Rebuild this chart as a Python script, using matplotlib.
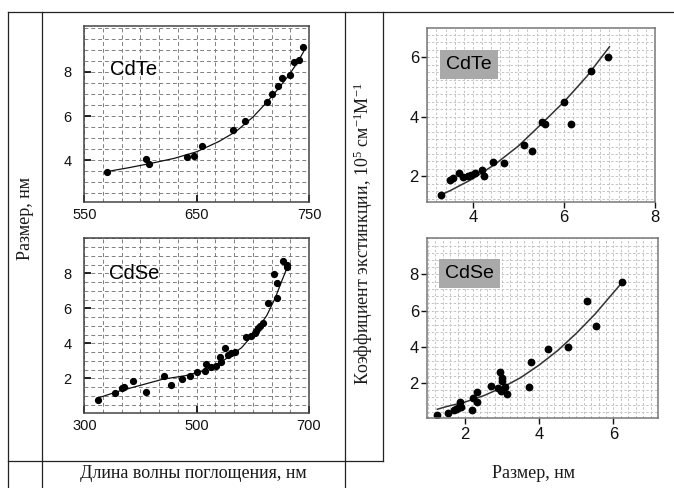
import matplotlib
matplotlib.use("Agg")
import matplotlib.pyplot as plt
from matplotlib.lines import Line2D
from matplotlib.ticker import MultipleLocator

plt.rcParams["font.family"] = ["Liberation Sans", "DejaVu Sans"]
plt.rcParams["mathtext.fontset"] = "custom"
plt.rcParams["mathtext.rm"] = "Liberation Serif"
plt.rcParams["mathtext.it"] = "Liberation Serif:italic"

W, H = 674, 488

# --- data ---
# CdTe: absorption wavelength (nm) -> size (nm)
cdte_wl = [570, 605, 607.5, 641, 648, 655, 682, 693, 713, 717, 722, 726, 733, 737, 741, 745]
cdte_size = [3.45, 4.03, 3.83, 4.14, 4.21, 4.62, 5.35, 5.76, 6.64, 7.02, 7.36, 7.73, 7.88, 8.45, 8.56, 9.14]
cdte_fit_wl = [570, 590, 610, 630, 650, 670, 685, 700, 712, 722, 732, 740, 746]
cdte_fit_size = [3.48, 3.66, 3.86, 4.08, 4.38, 4.85, 5.3, 5.95, 6.6, 7.2, 7.85, 8.45, 9.0]

# CdSe: absorption wavelength (nm) -> size (nm)
cdse_wl = [325, 354, 368, 371, 387, 410, 442, 454, 474, 488, 501, 514, 517, 526, 534, 541,
           544, 550, 556, 562, 568, 587, 597, 603, 606, 609, 612, 619, 627, 637, 643, 643,
           654, 660, 661]
cdse_size = [0.76, 1.14, 1.43, 1.49, 1.85, 1.24, 2.13, 1.62, 1.94, 2.13, 2.34, 2.44, 2.8,
             2.67, 2.7, 3.24, 2.95, 3.75, 3.33, 3.43, 3.52, 4.34, 4.42, 4.57, 4.7, 4.86, 4.99,
             5.14, 6.29, 7.96, 6.57, 7.47, 8.7, 8.38, 8.48]
cdse_fit_wl = [322, 360, 400, 440, 480, 510, 540, 565, 580, 595, 610, 625, 640, 652, 662]
cdse_fit_size = [0.85, 1.25, 1.6, 1.95, 2.15, 2.4, 2.85, 3.4, 3.75, 4.3, 4.9, 5.6, 6.6, 7.6, 8.4]

# extinction coefficient (10^5 cm^-1 M^-1) vs size (nm)
cdte_d = [3.30, 3.50, 3.57, 3.70, 3.78, 3.90, 3.96, 4.04, 4.20, 4.25, 4.45, 4.68, 5.12, 5.31,
          5.51, 5.58, 6.00, 6.16, 6.60, 6.96]
cdte_eps = [1.39, 1.89, 1.94, 2.11, 1.97, 2.0, 2.06, 2.11, 2.22, 2.00, 2.47, 2.45, 3.04, 2.86,
            3.84, 3.77, 4.51, 3.77, 5.55, 6.00]
cdte_fit_d = [3.3, 3.5, 4.0, 4.5, 5.0, 5.5, 6.0, 6.5, 7.0]
cdte_fit_eps = [1.38, 1.52, 1.92, 2.42, 3.02, 3.75, 4.5, 5.35, 6.35]

cdse_d = [1.24, 1.55, 1.69, 1.76, 1.82, 1.87, 1.88, 2.18, 2.22, 2.33, 2.33, 2.69, 2.90, 2.94,
          2.96, 2.99, 3.00, 3.08, 3.12, 3.73, 3.77, 4.24, 4.78, 5.29, 5.52, 6.23]
cdse_eps = [0.24, 0.37, 0.50, 0.55, 0.64, 0.97, 0.70, 0.51, 1.19, 1.49, 0.97, 1.85, 1.71, 2.62,
            1.56, 2.26, 2.11, 1.80, 1.38, 1.80, 3.14, 3.87, 4.00, 6.51, 5.14, 7.58]
cdse_fit_d = [1.25, 1.5, 2.0, 2.5, 3.0, 3.5, 4.0, 4.5, 5.0, 5.5, 6.0, 6.25]
cdse_fit_eps = [0.55, 0.7, 0.95, 1.3, 1.75, 2.3, 3.0, 3.8, 4.75, 5.8, 7.0, 7.6]


def box(l, t, r, b):
    # pixel box -> figure fraction rect
    return [l / W, 1 - b / H, (r - l) / W, (b - t) / H]


def hline(y, x0, x1):
    fig.add_artist(Line2D([x0 / W, x1 / W], [1 - y / H, 1 - y / H], color="#222", lw=0.9))


def vline(x, y0, y1):
    fig.add_artist(Line2D([x / W, x / W], [1 - y0 / H, 1 - y1 / H], color="#222", lw=0.9))


def left_style(ax, xlim, ylim, xt, yt, xstep):
    ax.set_xlim(*xlim)
    ax.set_ylim(*ylim)
    ax.set_xticks(xt)
    ax.set_yticks(yt)
    ax.xaxis.set_minor_locator(MultipleLocator(xstep))
    ax.yaxis.set_minor_locator(MultipleLocator(0.5))
    ax.grid(True, which="both", color="#808080", lw=0.7, linestyle=(0, (4, 3)))
    ax.set_axisbelow(True)
    ax.tick_params(which="major", direction="in", length=5, width=1.3, labelsize=10.5,
                   colors="#111")
    ax.tick_params(axis="y", which="major", pad=9)
    ax.tick_params(axis="x", which="major", pad=4)
    ax.tick_params(which="minor", length=0)
    for s in ax.spines.values():
        s.set_color("#444")
        s.set_linewidth(1.1)


def right_style(ax, xlim, ylim, xt, yt, ystep):
    ax.set_xlim(*xlim)
    ax.set_ylim(*ylim)
    ax.set_xticks(xt)
    ax.set_yticks(yt)
    ax.xaxis.set_minor_locator(MultipleLocator(0.2))
    ax.yaxis.set_minor_locator(MultipleLocator(ystep))
    ax.grid(True, which="both", color="#c4c4c4", lw=0.7, linestyle=(0, (2.5, 2)))
    ax.set_axisbelow(True)
    ax.tick_params(which="major", direction="out", length=4, width=1.0, labelsize=12,
                   colors="#111", pad=2)
    ax.tick_params(which="minor", length=0)
    for s in ax.spines.values():
        s.set_color("#777")
        s.set_linewidth(1.1)


fig = plt.figure(figsize=(W / 100, H / 100), dpi=100)

# table lines
hline(12, 8, 673)
hline(461, 8, 383)
vline(8, 12, 488)
vline(42, 12, 488)
vline(345, 12, 488)
vline(383, 12, 461)

# left column: size vs absorption wavelength
ax1 = fig.add_axes(box(84.3, 25.7, 309, 202))
ax1.plot(cdte_fit_wl, cdte_fit_size, color="#111", lw=0.9)
ax1.plot(cdte_wl, cdte_size, "o", color="black", ms=4.2)
left_style(ax1, (550, 750), (2.1, 10.1), [550, 650, 750], [4, 6, 8], 50 / 3)
ax1.text(0.22, 0.75, "CdTe", transform=ax1.transAxes, fontsize=14.5, ha="center", va="center")

ax2 = fig.add_axes(box(84.3, 238.3, 309, 413.3))
ax2.plot(cdse_fit_wl, cdse_fit_size, color="#111", lw=0.9)
ax2.plot(cdse_wl, cdse_size, "o", color="black", ms=4.2)
left_style(ax2, (300, 700), (0, 10), [300, 500, 700], [2, 4, 6, 8], 100 / 3)
ax2.text(0.22, 0.80, "CdSe", transform=ax2.transAxes, fontsize=14.5, ha="center", va="center")

# right column: extinction coefficient vs size
ax3 = fig.add_axes(box(427.3, 28.3, 655, 201.7))
ax3.plot(cdte_fit_d, cdte_fit_eps, color="#333", lw=1.1)
ax3.plot(cdte_d, cdte_eps, "o", color="black", ms=4.6)
right_style(ax3, (3.0, 7.93), (1.15, 6.97), [4, 6, 8], [2, 4, 6], 0.25)
ax3.text(469 / W, 1 - 64.5 / H, "CdTe", transform=fig.transFigure, fontsize=14,
         ha="center", va="center",
         bbox=dict(boxstyle="square,pad=0.32", facecolor="#a9a9a9", edgecolor="none"))

ax4 = fig.add_axes(box(427.3, 238.3, 658.3, 418.3))
ax4.plot(cdse_fit_d, cdse_fit_eps, color="#333", lw=1.1)
ax4.plot(cdse_d, cdse_eps, "o", color="black", ms=4.6)
right_style(ax4, (0.98, 7.21), (0.05, 10), [2, 4, 6], [2, 4, 6, 8], 0.4)
ax4.text(469.5 / W, 1 - 273.5 / H, "CdSe", transform=fig.transFigure, fontsize=14,
         ha="center", va="center",
         bbox=dict(boxstyle="square,pad=0.32", facecolor="#a9a9a9", edgecolor="none"))

# table captions (serif)
serif = ["Liberation Serif", "DejaVu Serif"]
fig.text(26 / W, 1 - 218 / H, "Размер, нм", rotation=90, fontsize=13, family=serif,
         ha="center", va="center", color="#1a1a1a")
fig.text(363 / W, 1 - 234 / H, "Коэффициент экстинкции, 10$^5$ см$^{-1}$М$^{-1}$",
         rotation=90, fontsize=13, family=serif, ha="center", va="center", color="#1a1a1a")
fig.text(193 / W, 1 - 473 / H, "Длина волны поглощения, нм", fontsize=13, family=serif,
         ha="center", va="center", color="#1a1a1a")
fig.text(534 / W, 1 - 473 / H, "Размер, нм", fontsize=13, family=serif,
         ha="center", va="center", color="#1a1a1a")

fig.savefig("out.png", dpi=100)
